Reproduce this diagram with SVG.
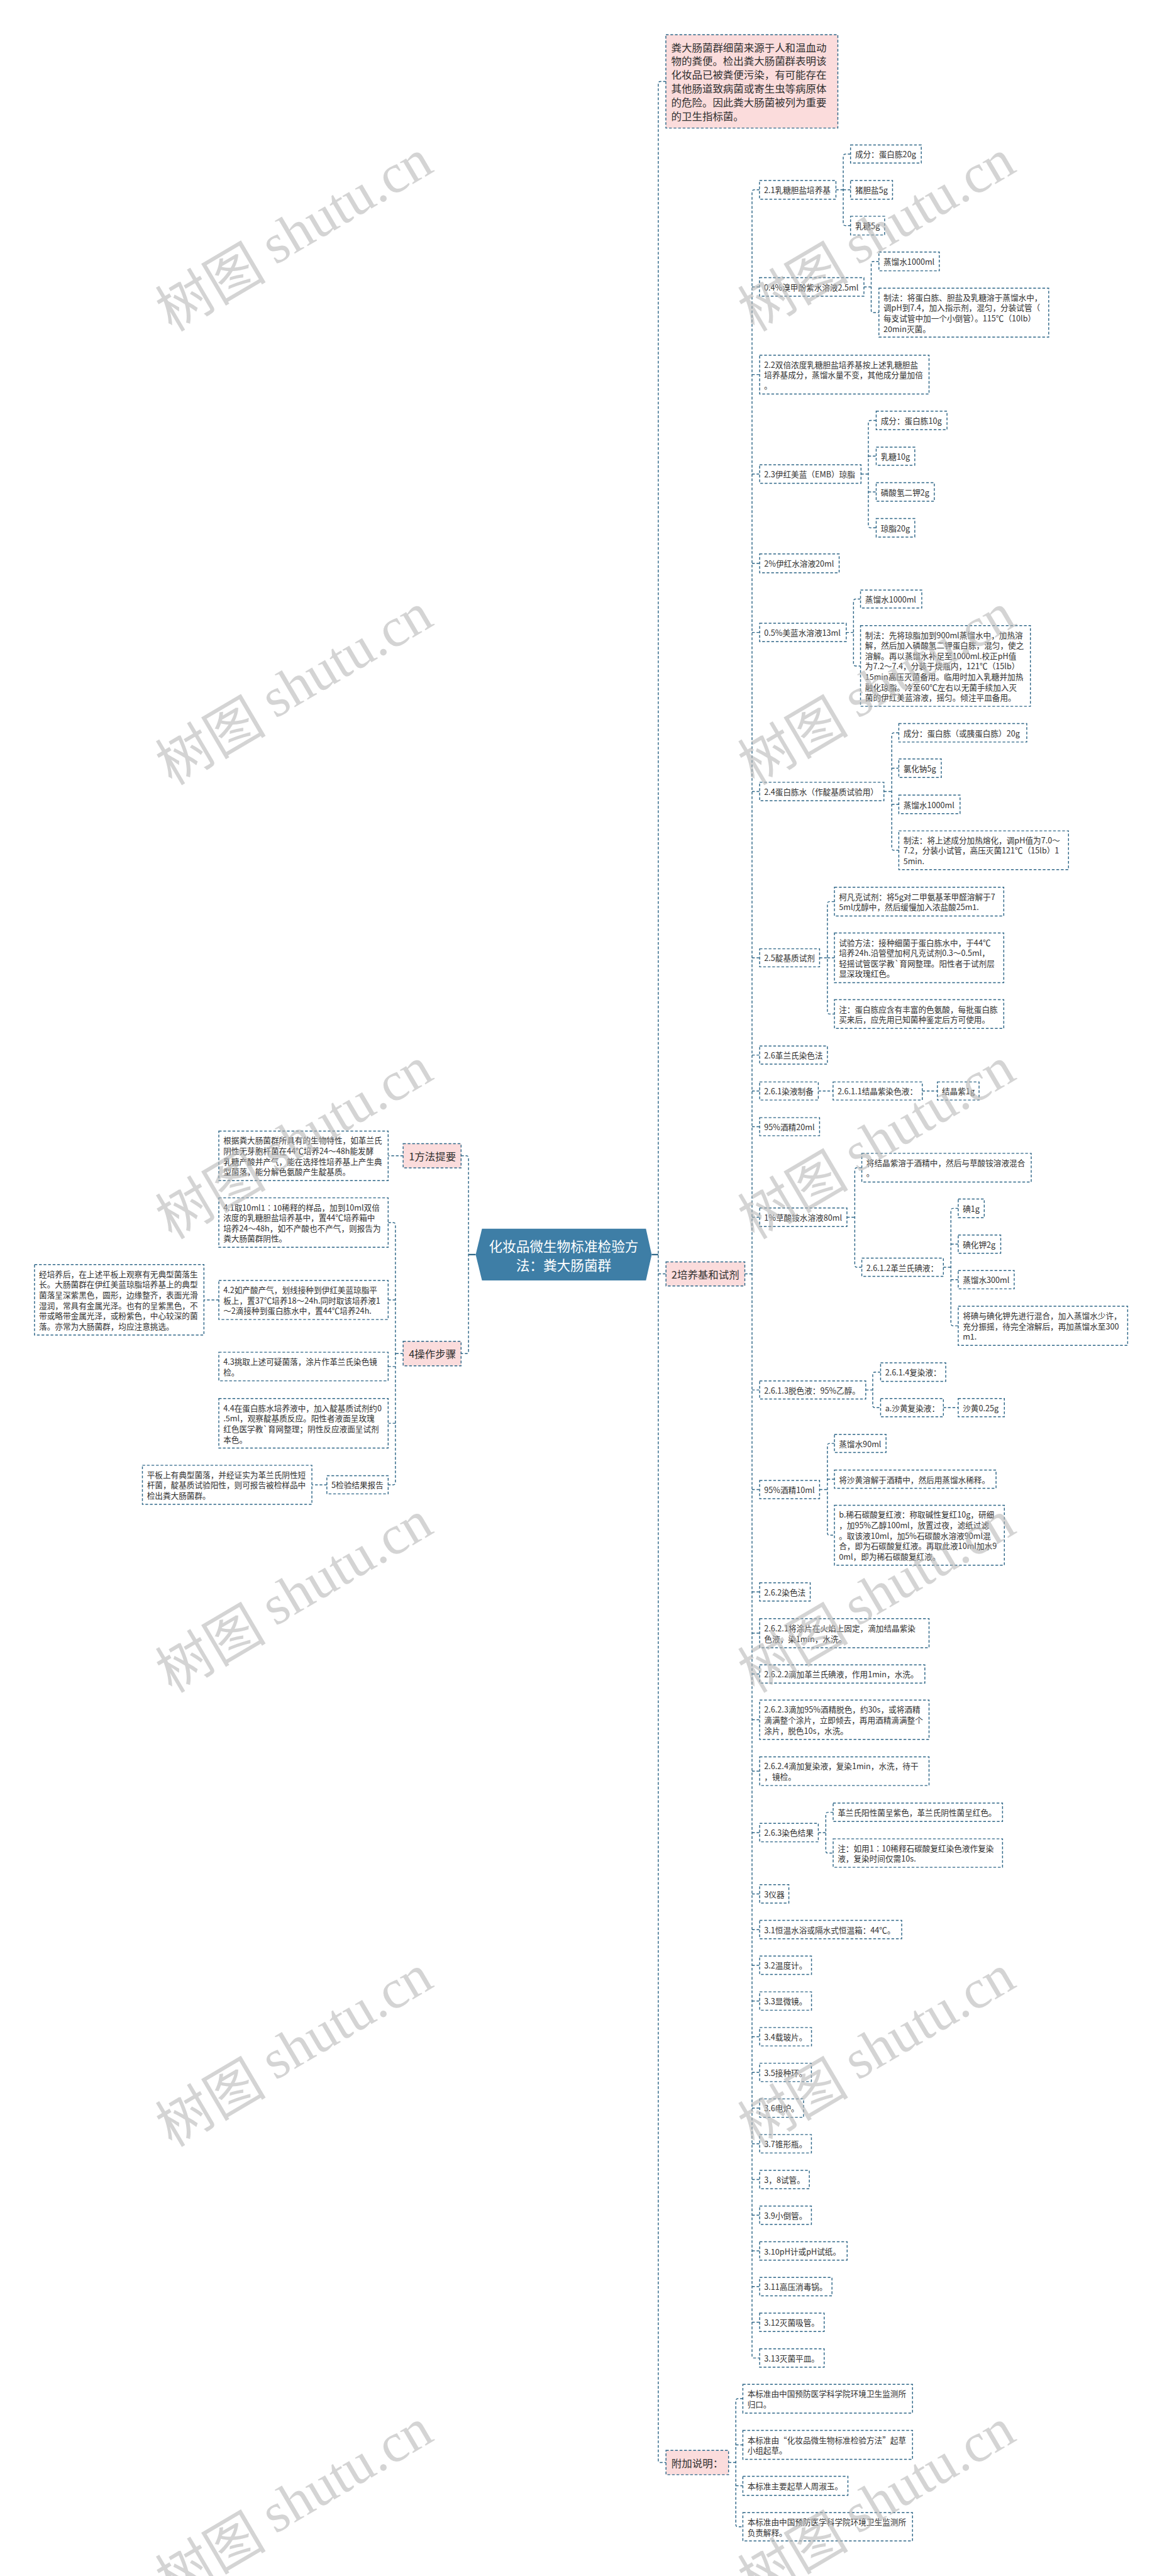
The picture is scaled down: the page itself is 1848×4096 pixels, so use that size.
<svg xmlns="http://www.w3.org/2000/svg" width="1848" height="4096" viewBox="0 0 1848 4096">
<defs>
<style>
.b{fill:#ffffff;stroke:#2f6788;stroke-width:2;stroke-dasharray:6 4}
.p{fill:#fbdcdc;stroke:#2f6788;stroke-width:2;stroke-dasharray:6 4}
.c{fill:none;stroke:#2f6788;stroke-width:2;stroke-dasharray:6 4}
.s{fill:none;stroke:#2f6788;stroke-width:3}
text{font-family:'Noto Sans CJK SC','Microsoft YaHei',sans-serif;dominant-baseline:central;fill:#303030}
.t{font-size:17.5px}
.tp{font-size:22.8px}
.tr{font-size:30px;fill:#ffffff;text-anchor:middle}
.wm{font-size:122px;fill:#b8b8b8;fill-opacity:0.6;text-anchor:middle}
</style>
</defs>
<rect x="0" y="0" width="1848" height="4096" fill="#ffffff"/>
<g transform="scale(0.722)">
<g id="connectors">
<path class="s" d="M1435.5 2763H1450M1047.8 2763H1032"/>
<path class="c" d="M1466.7 179.25H1455Q1450 179.25 1450 184.25V5418.2Q1450 5423.2 1455 5423.2H1467M1450 2805.5H1467"/>
<path class="c" d="M1015.6 2545.3H1027Q1032 2545.3 1032 2550.3V2976Q1032 2981 1027 2981H1015.6"/>
<path class="c" d="M888 2545.3H855"/>
<path class="c" d="M888 2981H871M855 2692.5H866Q871 2692.5 871 2697.5V3265Q871 3270 866 3270H855M871 2863H855M871 3009.5H855M871 3134.5H855"/>
<path class="c" d="M482 2863H449.2M720 3270H687"/>
<path class="c" d="M1640.6 2805.5H1656.5M1672.9 418H1661.5Q1656.5 418 1656.5 423V5188.05Q1656.5 5193.05 1661.5 5193.05H1673.3M1656.5 632H1672.9M1656.5 825H1673.3M1656.5 1043.9H1673.3M1656.5 1240.65H1673.3M1656.5 1392.85H1673.3M1656.5 1743.2H1673.3M1656.5 2109.4H1673.3M1656.5 2323.6H1673.3M1656.5 2402.7H1673.3M1656.5 2481.3H1673.3M1656.5 2680.8H1673.3M1656.5 3061.1H1673.3M1656.5 3280.4H1673.3M1656.5 3505.85H1673.3M1656.5 3596.7H1673.3M1656.5 3686.6H1673.3M1656.5 3787.4H1673.3M1656.5 3900.65H1673.3M1656.5 4035.9H1673.3M1656.5 4170.95H1673.3M1656.5 4249.55H1673.3M1656.5 4328.15H1673.3M1656.5 4406.85H1673.3M1656.5 4485.45H1673.3M1656.5 4564.05H1673.3M1656.5 4642.65H1673.3M1656.5 4721.25H1673.3M1656.5 4799.95H1673.3M1656.5 4878.55H1673.3M1656.5 4957.15H1673.3M1656.5 5035.75H1673.3M1656.5 5114.35H1673.3"/>
<path class="c" d="M1841.3 418H1857.4M1873.5 339.25H1862.4Q1857.4 339.25 1857.4 344.25V491.9Q1857.4 496.9 1862.4 496.9H1873.5M1857.4 418H1873.5"/>
<path class="c" d="M1903 632H1919M1936 575.7H1924Q1919 575.7 1919 580.7V683.5Q1919 688.5 1924 688.5H1936"/>
<path class="c" d="M1896.6 1043.9H1912.7M1930 926H1917.7Q1912.7 926 1912.7 931V1157.35Q1912.7 1162.35 1917.7 1162.35H1930M1912.7 1004.6H1930M1912.7 1083.5H1930"/>
<path class="c" d="M1864 1392.85H1880M1895.5 1319.3H1885Q1880 1319.3 1880 1324.3V1461.65Q1880 1466.65 1885 1466.65H1895.5"/>
<path class="c" d="M1947 1743.2H1964.3M1979.8 1613.8H1969.3Q1964.3 1613.8 1964.3 1618.8V1867.55Q1964.3 1872.55 1969.3 1872.55H1979.8M1964.3 1691.9H1979.8M1964.3 1771.5H1979.8"/>
<path class="c" d="M1805.3 2109.4H1822.5M1838 1985.65H1827.5Q1822.5 1985.65 1822.5 1990.65V2228.2Q1822.5 2233.2 1827.5 2233.2H1838M1822.5 2109.3H1838"/>
<path class="c" d="M1802.5 2402.7H1835M2031.5 2402.7H2064.8"/>
<path class="c" d="M1865.6 2680.8H1882.8M1898.3 2571.6H1887.8Q1882.8 2571.6 1882.8 2576.6V2785.9Q1882.8 2790.9 1887.8 2790.9H1898.3"/>
<path class="c" d="M2078 2790.9H2094.6M2110.7 2661.15H2099.6Q2094.6 2661.15 2094.6 2666.15V2914.85Q2094.6 2919.85 2099.6 2919.85H2110.7M2094.6 2740H2110.7M2094.6 2818.25H2110.7"/>
<path class="c" d="M1907 3061.1H1922.4M1939.7 3021.85H1927.4Q1922.4 3021.85 1922.4 3026.85V3095.1Q1922.4 3100.1 1927.4 3100.1H1939.7M2078 3100.1H2110.7"/>
<path class="c" d="M1805.3 3280.4H1822.5M1838 3178.85H1827.5Q1822.5 3178.85 1822.5 3183.85V3376Q1822.5 3381 1827.5 3381H1838M1822.5 3257.65H1838"/>
<path class="c" d="M1802.5 4035.9H1819M1835.2 3991.2H1824Q1819 3991.2 1819 3996.2V4076.05Q1819 4081.05 1824 4081.05H1835.2"/>
<path class="c" d="M1604.8 5423.2H1620.8M1636.3 5282.65H1625.8Q1620.8 5282.65 1620.8 5287.65V5559.8Q1620.8 5564.8 1625.8 5564.8H1636.3M1620.8 5384.3H1636.3M1620.8 5474.5H1636.3"/>
</g>

<g id="root"><polygon points="1061.7,2706 1422.8,2706 1435.5,2763 1422.8,2820 1061.7,2820 1047.8,2763" fill="#3e7ea6"/><text class="tr" x="1241.6" y="2743">化妆品微生物标准检验方</text><text class="tr" x="1241.6" y="2784">法：粪大肠菌群</text></g>

<g id="n-intro"><rect class="p" x="1466.7" y="76.5" width="378.8" height="205.5"/>
<text class="tp" x="1478.7" y="103.25">粪大肠菌群细菌来源于人和温血动</text><text class="tp" x="1478.7" y="133.65">物的粪便。检出粪大肠菌群表明该</text><text class="tp" x="1478.7" y="164.05">化妆品已被粪便污染，有可能存在</text><text class="tp" x="1478.7" y="194.45">其他肠道致病菌或寄生虫等病原体</text><text class="tp" x="1478.7" y="224.85">的危险。因此粪大肠菌被列为重要</text><text class="tp" x="1478.7" y="255.25">的卫生指标菌。</text></g>
<g id="n-2"><rect class="p" x="1467" y="2779" width="173.6" height="53"/><text class="tp" x="1479" y="2805.5">2培养基和试剂</text></g>
<g id="n-1"><rect class="p" x="888" y="2518.6" width="127.6" height="53.4"/><text class="tp" x="900.5" y="2545.3">1方法提要</text></g>
<g id="n-4"><rect class="p" x="888" y="2954" width="127.6" height="54"/><text class="tp" x="900.5" y="2981">4操作步骤</text></g>
<g id="n-fj"><rect class="p" x="1467" y="5396.4" width="137.8" height="53.6"/><text class="tp" x="1479" y="5423.2">附加说明：</text></g>

<g id="n-1a"><rect class="b" x="482" y="2491" width="373" height="109"/><text class="t" x="492" y="2511">根据粪大肠菌群所具有的生物特性，如革兰氏</text><text class="t" x="492" y="2534">阴性无芽胞杆菌在44℃培养24～48h能发酵</text><text class="t" x="492" y="2557">乳糖产酸并产气，能在选择性培养基上产生典</text><text class="t" x="492" y="2580">型菌落，能分解色氨酸产生靛基质。</text></g>
<g id="n-41"><rect class="b" x="482" y="2638" width="373" height="109"/><text class="t" x="492" y="2658">4.1取10ml1∶10稀释的样品，加到10ml双倍</text><text class="t" x="492" y="2681">浓度的乳糖胆盐培养基中，置44℃培养箱中</text><text class="t" x="492" y="2704">培养24～48h，如不产酸也不产气，则报告为</text><text class="t" x="492" y="2727">粪大肠菌群阴性。</text></g>
<g id="n-42"><rect class="b" x="482" y="2820" width="373" height="86"/><text class="t" x="492" y="2840">4.2如产酸产气，划线接种到伊红美蓝琼脂平</text><text class="t" x="492" y="2863">板上，置37℃培养18～24h.同时取该培养液1</text><text class="t" x="492" y="2886">～2滴接种到蛋白胨水中，置44℃培养24h.</text></g>
<g id="n-42a"><rect class="b" x="76" y="2785" width="373.2" height="155"/><text class="t" x="86" y="2805">经培养后，在上述平板上观察有无典型菌落生</text><text class="t" x="86" y="2828">长。大肠菌群在伊红美蓝琼脂培养基上的典型</text><text class="t" x="86" y="2851">菌落呈深紫黑色，圆形，边缘整齐，表面光滑</text><text class="t" x="86" y="2874">湿润，常具有金属光泽。也有的呈紫黑色，不</text><text class="t" x="86" y="2897">带或略带金属光泽，或粉紫色，中心较深的菌</text><text class="t" x="86" y="2920">落。亦常为大肠菌群，均应注意挑选。</text></g>
<g id="n-43"><rect class="b" x="482" y="2978" width="373" height="63"/><text class="t" x="492" y="2998">4.3挑取上述可疑菌落，涂片作革兰氏染色镜</text><text class="t" x="492" y="3021">检。</text></g>
<g id="n-44"><rect class="b" x="482" y="3080" width="373" height="109"/><text class="t" x="492" y="3100">4.4在蛋白胨水培养液中，加入靛基质试剂约0</text><text class="t" x="492" y="3123">.5ml，观察靛基质反应。阳性者液面呈玫瑰</text><text class="t" x="492" y="3146">红色医学教`育网整理；阴性反应液面呈试剂</text><text class="t" x="492" y="3169">本色。</text></g>
<g id="n-5"><rect class="b" x="720" y="3250" width="135" height="40"/><text class="t" x="730" y="3270">5检验结果报告</text></g>
<g id="n-5a"><rect class="b" x="313.7" y="3227" width="373.3" height="86"/><text class="t" x="323.7" y="3247">平板上有典型菌落，并经证实为革兰氏阴性短</text><text class="t" x="323.7" y="3270">杆菌，靛基质试验阳性，则可报告被检样品中</text><text class="t" x="323.7" y="3293">检出粪大肠菌群。</text></g>

<g id="n-21"><rect class="b" x="1672.9" y="397.4" width="168.4" height="41.2"/><text class="t" x="1682.9" y="418">2.1乳糖胆盐培养基</text></g>
<g id="n-211"><rect class="b" x="1873.5" y="319.3" width="155.8" height="39.9"/><text class="t" x="1883.5" y="339.25">成分：蛋白胨20g</text></g>
<g id="n-212"><rect class="b" x="1873.5" y="397.4" width="92.5" height="41.2"/><text class="t" x="1883.5" y="418">猪胆盐5g</text></g>
<g id="n-213"><rect class="b" x="1873.5" y="476.3" width="75.1" height="41.2"/><text class="t" x="1883.5" y="496.9">乳糖5g</text></g>
<g id="n-bcp"><rect class="b" x="1672.9" y="611.6" width="230.1" height="40.8"/><text class="t" x="1682.9" y="632">0.4%溴甲酚紫水溶液2.5ml</text></g>
<g id="n-bcp-a"><rect class="b" x="1936" y="555" width="133" height="41.4"/><text class="t" x="1946" y="575.7">蒸馏水1000ml</text></g>
<g id="n-bcp-b"><rect class="b" x="1936" y="634.6" width="374" height="107.8"/><text class="t" x="1946" y="654">制法：将蛋白胨、胆盐及乳糖溶于蒸馏水中，</text><text class="t" x="1946" y="677">调pH到7.4，加入指示剂，混匀，分装试管（</text><text class="t" x="1946" y="700">每支试管中加一个小倒管）。115℃（10lb）</text><text class="t" x="1946" y="723">20min灭菌。</text></g>
<g id="n-22"><rect class="b" x="1673.3" y="782.2" width="373.1" height="85.6"/><text class="t" x="1683.3" y="802">2.2双倍浓度乳糖胆盐培养基按上述乳糖胆盐</text><text class="t" x="1683.3" y="825">培养基成分，蒸馏水量不变，其他成分量加倍</text><text class="t" x="1683.3" y="848">。</text></g>
<g id="n-23"><rect class="b" x="1673.3" y="1023.5" width="223.3" height="40.8"/><text class="t" x="1683.3" y="1043.9">2.3伊红美蓝（EMB）琼脂</text></g>
<g id="n-231"><rect class="b" x="1930" y="905.6" width="156" height="40.8"/><text class="t" x="1940" y="926">成分：蛋白胨10g</text></g>
<g id="n-232"><rect class="b" x="1930" y="984.7" width="85" height="39.8"/><text class="t" x="1940" y="1004.6">乳糖10g</text></g>
<g id="n-233"><rect class="b" x="1930" y="1063" width="128" height="41"/><text class="t" x="1940" y="1083.5">磷酸氢二钾2g</text></g>
<g id="n-234"><rect class="b" x="1930" y="1142" width="85" height="40.7"/><text class="t" x="1940" y="1162.35">琼脂20g</text></g>
<g id="n-ey"><rect class="b" x="1673.3" y="1220" width="175.1" height="41.3"/><text class="t" x="1683.3" y="1240.65">2%伊红水溶液20ml</text></g>
<g id="n-mb"><rect class="b" x="1673.3" y="1372.7" width="190.7" height="40.3"/><text class="t" x="1683.3" y="1392.85">0.5%美蓝水溶液13ml</text></g>
<g id="n-mb-a"><rect class="b" x="1895.5" y="1299.6" width="134.9" height="39.4"/><text class="t" x="1905.5" y="1319.3">蒸馏水1000ml</text></g>
<g id="n-mb-b"><rect class="b" x="1895.5" y="1377.7" width="374.2" height="177.9"/><text class="t" x="1905.5" y="1397.65">制法：先将琼脂加到900ml蒸馏水中，加热溶</text><text class="t" x="1905.5" y="1420.65">解，然后加入磷酸氢二钾蛋白胨，混匀，使之</text><text class="t" x="1905.5" y="1443.65">溶解。再以蒸馏水补足至1000ml.校正pH值</text><text class="t" x="1905.5" y="1466.65">为7.2～7.4，分装于烧瓶内，121℃（15lb）</text><text class="t" x="1905.5" y="1489.65">15min高压灭菌备用。临用时加入乳糖并加热</text><text class="t" x="1905.5" y="1512.65">融化琼脂。冷至60℃左右以无菌手续加入灭</text><text class="t" x="1905.5" y="1535.65">菌的伊红美蓝溶液，摇匀。倾注平皿备用。</text></g>
<g id="n-24"><rect class="b" x="1673.3" y="1722.8" width="273.7" height="40.8"/><text class="t" x="1683.3" y="1743.2">2.4蛋白胨水（作靛基质试验用）</text></g>
<g id="n-241"><rect class="b" x="1979.8" y="1593.4" width="281.9" height="40.8"/><text class="t" x="1989.8" y="1613.8">成分：蛋白胨（或胰蛋白胨）20g</text></g>
<g id="n-242"><rect class="b" x="1979.8" y="1671.5" width="93.6" height="40.8"/><text class="t" x="1989.8" y="1691.9">氯化钠5g</text></g>
<g id="n-243"><rect class="b" x="1979.8" y="1751" width="134.9" height="41"/><text class="t" x="1989.8" y="1771.5">蒸馏水1000ml</text></g>
<g id="n-244"><rect class="b" x="1979.8" y="1829.8" width="373.8" height="85.5"/><text class="t" x="1989.8" y="1849.55">制法：将上述成分加热熔化，调pH值为7.0～</text><text class="t" x="1989.8" y="1872.55">7.2，分装小试管，高压灭菌121℃（15lb）1</text><text class="t" x="1989.8" y="1895.55">5min.</text></g>
<g id="n-25"><rect class="b" x="1673.3" y="2089.5" width="132" height="39.8"/><text class="t" x="1683.3" y="2109.4">2.5靛基质试剂</text></g>
<g id="n-251"><rect class="b" x="1838" y="1954" width="373" height="63.3"/><text class="t" x="1848" y="1974.15">柯凡克试剂：将5g对二甲氨基苯甲醛溶解于7</text><text class="t" x="1848" y="1997.15">5ml戊醇中，然后缓慢加入浓盐酸25m1.</text></g>
<g id="n-252"><rect class="b" x="1838" y="2054.6" width="373" height="109.4"/><text class="t" x="1848" y="2074.8">试验方法：接种细菌于蛋白胨水中，于44℃</text><text class="t" x="1848" y="2097.8">培养24h.沿管壁加柯凡克试剂0.3～0.5ml，</text><text class="t" x="1848" y="2120.8">轻摇试管医学教`育网整理。阳性者于试剂层</text><text class="t" x="1848" y="2143.8">显深玫瑰红色。</text></g>
<g id="n-253"><rect class="b" x="1838" y="2201.4" width="373" height="63.6"/><text class="t" x="1848" y="2221.7">注：蛋白胨应含有丰富的色氨酸，每批蛋白胨</text><text class="t" x="1848" y="2244.7">买来后，应先用已知菌种鉴定后方可使用。</text></g>
<g id="n-26"><rect class="b" x="1673.3" y="2303.7" width="149.2" height="39.8"/><text class="t" x="1683.3" y="2323.6">2.6革兰氏染色法</text></g>
<g id="n-261"><rect class="b" x="1673.3" y="2382.8" width="129.2" height="39.8"/><text class="t" x="1683.3" y="2402.7">2.6.1染液制备</text></g>
<g id="n-2611"><rect class="b" x="1835" y="2382.8" width="196.5" height="39.8"/><text class="t" x="1845" y="2402.7">2.6.1.1结晶紫染色液：</text></g>
<g id="n-2611a"><rect class="b" x="2064.8" y="2382.8" width="91.8" height="39.8"/><text class="t" x="2074.8" y="2402.7">结晶紫1g</text></g>
<g id="n-95a"><rect class="b" x="1673.3" y="2461.4" width="132" height="39.8"/><text class="t" x="1683.3" y="2481.3">95%酒精20ml</text></g>
<g id="n-cs"><rect class="b" x="1673.3" y="2660.4" width="192.3" height="40.8"/><text class="t" x="1683.3" y="2680.8">1%草酸铵水溶液80ml</text></g>
<g id="n-cs-a"><rect class="b" x="1898.3" y="2540" width="373.2" height="63.2"/><text class="t" x="1908.3" y="2560.1">将结晶紫溶于酒精中，然后与草酸铵溶液混合</text><text class="t" x="1908.3" y="2583.1">。</text></g>
<g id="n-2612"><rect class="b" x="1898.3" y="2770.8" width="179.7" height="40.2"/><text class="t" x="1908.3" y="2790.9">2.6.1.2革兰氏碘液：</text></g>
<g id="n-2612a"><rect class="b" x="2110.7" y="2640.5" width="57.3" height="41.3"/><text class="t" x="2120.7" y="2661.15">碘1g</text></g>
<g id="n-2612b"><rect class="b" x="2110.7" y="2720" width="93.6" height="40"/><text class="t" x="2120.7" y="2740">碘化钾2g</text></g>
<g id="n-2612c"><rect class="b" x="2110.7" y="2798" width="123.3" height="40.5"/><text class="t" x="2120.7" y="2818.25">蒸馏水300ml</text></g>
<g id="n-2612d"><rect class="b" x="2110.7" y="2876.8" width="373.2" height="86.1"/><text class="t" x="2120.7" y="2896.85">将碘与碘化钾先进行混合，加入蒸馏水少许，</text><text class="t" x="2120.7" y="2919.85">充分振摇，待完全溶解后，再加蒸馏水至300</text><text class="t" x="2120.7" y="2942.85">m1.</text></g>
<g id="n-2613"><rect class="b" x="1673.3" y="3041.2" width="233.7" height="39.8"/><text class="t" x="1683.3" y="3061.1">2.6.1.3脱色液：95%乙醇。</text></g>
<g id="n-2614"><rect class="b" x="1939.7" y="3001.5" width="143.5" height="40.7"/><text class="t" x="1949.7" y="3021.85">2.6.1.4复染液：</text></g>
<g id="n-a"><rect class="b" x="1939.7" y="3080" width="138.3" height="40.2"/><text class="t" x="1949.7" y="3100.1">a.沙黄复染液：</text></g>
<g id="n-a1"><rect class="b" x="2110.7" y="3080" width="101.6" height="40.2"/><text class="t" x="2120.7" y="3100.1">沙黄0.25g</text></g>
<g id="n-95b"><rect class="b" x="1673.3" y="3260.3" width="132" height="40.2"/><text class="t" x="1683.3" y="3280.4">95%酒精10ml</text></g>
<g id="n-95b1"><rect class="b" x="1838" y="3159" width="113.7" height="39.7"/><text class="t" x="1848" y="3178.85">蒸馏水90ml</text></g>
<g id="n-95b2"><rect class="b" x="1838" y="3237.5" width="356" height="40.3"/><text class="t" x="1848" y="3257.65">将沙黄溶解于酒精中，然后用蒸馏水稀释。</text></g>
<g id="n-95b3"><rect class="b" x="1838" y="3315" width="374.3" height="132"/><text class="t" x="1848" y="3335">b.稀石碳酸复红液：称取碱性复红10g，研细</text><text class="t" x="1848" y="3358">，加95%乙醇100ml，放置过夜，滤纸过滤</text><text class="t" x="1848" y="3381">。取该液10ml，加5%石碳酸水溶液90ml混</text><text class="t" x="1848" y="3404">合，即为石碳酸复红液。再取此液10ml加水9</text><text class="t" x="1848" y="3427">0ml，即为稀石碳酸复红液。</text></g>
<g id="n-262"><rect class="b" x="1673.3" y="3485.7" width="111.4" height="40.3"/><text class="t" x="1683.3" y="3505.85">2.6.2染色法</text></g>
<g id="n-2621"><rect class="b" x="1673.3" y="3564.7" width="373.1" height="64"/><text class="t" x="1683.3" y="3585.2">2.6.2.1将涂片在火焰上固定，滴加结晶紫染</text><text class="t" x="1683.3" y="3608.2">色液，染1min，水洗。</text></g>
<g id="n-2622"><rect class="b" x="1673.3" y="3666.5" width="363.9" height="40.2"/><text class="t" x="1683.3" y="3686.6">2.6.2.2滴加革兰氏碘液，作用1min，水洗。</text></g>
<g id="n-2623"><rect class="b" x="1673.3" y="3744" width="373.1" height="86.8"/><text class="t" x="1683.3" y="3764.4">2.6.2.3滴加95%酒精脱色，约30s，或将酒精</text><text class="t" x="1683.3" y="3787.4">滴满整个涂片，立即倾去，再用酒精滴满整个</text><text class="t" x="1683.3" y="3810.4">涂片，脱色10s，水洗。</text></g>
<g id="n-2624"><rect class="b" x="1673.3" y="3869" width="373.1" height="63.3"/><text class="t" x="1683.3" y="3889.15">2.6.2.4滴加复染液，复染1min，水洗，待干</text><text class="t" x="1683.3" y="3912.15">，镜检。</text></g>
<g id="n-263"><rect class="b" x="1673.3" y="4015.5" width="129.2" height="40.8"/><text class="t" x="1683.3" y="4035.9">2.6.3染色结果</text></g>
<g id="n-2631"><rect class="b" x="1835.2" y="3971" width="373.1" height="40.4"/><text class="t" x="1845.2" y="3991.2">革兰氏阳性菌呈紫色，革兰氏阴性菌呈红色。</text></g>
<g id="n-2632"><rect class="b" x="1835.2" y="4049.7" width="373.1" height="62.7"/><text class="t" x="1845.2" y="4069.55">注：如用1∶10稀释石碳酸复红染色液作复染</text><text class="t" x="1845.2" y="4092.55">液，复染时间仅需10s.</text></g>
<g id="n-3"><rect class="b" x="1673.3" y="4150.7" width="64.3" height="40.5"/><text class="t" x="1683.3" y="4170.95">3仪器</text></g>
<g id="n-31"><rect class="b" x="1673.3" y="4229.3" width="312.9" height="40.5"/><text class="t" x="1683.3" y="4249.55">3.1恒温水浴或隔水式恒温箱：44℃。</text></g>
<g id="n-32"><rect class="b" x="1673.3" y="4307.9" width="114.2" height="40.5"/><text class="t" x="1683.3" y="4328.15">3.2温度计。</text></g>
<g id="n-33"><rect class="b" x="1673.3" y="4386.6" width="114.2" height="40.5"/><text class="t" x="1683.3" y="4406.85">3.3显微镜。</text></g>
<g id="n-34"><rect class="b" x="1673.3" y="4465.2" width="114.2" height="40.5"/><text class="t" x="1683.3" y="4485.45">3.4载玻片。</text></g>
<g id="n-35"><rect class="b" x="1673.3" y="4543.8" width="114" height="40.5"/><text class="t" x="1683.3" y="4564.05">3.5接种环。</text></g>
<g id="n-36"><rect class="b" x="1673.3" y="4622.4" width="96.7" height="40.5"/><text class="t" x="1683.3" y="4642.65">3.6电炉。</text></g>
<g id="n-37"><rect class="b" x="1673.3" y="4701" width="114" height="40.5"/><text class="t" x="1683.3" y="4721.25">3.7锥形瓶。</text></g>
<g id="n-38"><rect class="b" x="1673.3" y="4779.7" width="109.4" height="40.5"/><text class="t" x="1683.3" y="4799.95">3，8试管。</text></g>
<g id="n-39"><rect class="b" x="1673.3" y="4858.3" width="114" height="40.5"/><text class="t" x="1683.3" y="4878.55">3.9小倒管。</text></g>
<g id="n-310"><rect class="b" x="1673.3" y="4936.9" width="192.7" height="40.5"/><text class="t" x="1683.3" y="4957.15">3.10pH计或pH试纸。</text></g>
<g id="n-311"><rect class="b" x="1673.3" y="5015.5" width="159.3" height="40.5"/><text class="t" x="1683.3" y="5035.75">3.11高压消毒锅。</text></g>
<g id="n-312"><rect class="b" x="1673.3" y="5094.1" width="142.1" height="40.5"/><text class="t" x="1683.3" y="5114.35">3.12灭菌吸管。</text></g>
<g id="n-313"><rect class="b" x="1673.3" y="5172.8" width="142.1" height="40.5"/><text class="t" x="1683.3" y="5193.05">3.13灭菌平皿。</text></g>
<g id="n-fj1"><rect class="b" x="1636.3" y="5251" width="373.7" height="63.3"/><text class="t" x="1646.3" y="5271.15">本标准由中国预防医学科学院环境卫生监测所</text><text class="t" x="1646.3" y="5294.15">归口。</text></g>
<g id="n-fj2"><rect class="b" x="1636.3" y="5352.4" width="373.7" height="63.8"/><text class="t" x="1646.3" y="5372.8">本标准由“化妆品微生物标准检验方法”起草</text><text class="t" x="1646.3" y="5395.8">小组起草。</text></g>
<g id="n-fj3"><rect class="b" x="1636.3" y="5453.6" width="231.4" height="41.8"/><text class="t" x="1646.3" y="5474.5">本标准主要起草人周淑玉。</text></g>
<g id="n-fj4"><rect class="b" x="1636.3" y="5533.6" width="373.7" height="62.4"/><text class="t" x="1646.3" y="5553.3">本标准由中国预防医学科学院环境卫生监测所</text><text class="t" x="1646.3" y="5576.3">负责解释。</text></g>

<g id="watermarks">
<text class="wm" x="645" y="513" transform="rotate(-30.5 645 513)">树图 <tspan font-family="'Liberation Serif',serif">shutu.cn</tspan></text>
<text class="wm" x="1928" y="513" transform="rotate(-30.5 1928 513)">树图 <tspan font-family="'Liberation Serif',serif">shutu.cn</tspan></text>
<text class="wm" x="645" y="1512" transform="rotate(-30.5 645 1512)">树图 <tspan font-family="'Liberation Serif',serif">shutu.cn</tspan></text>
<text class="wm" x="1928" y="1512" transform="rotate(-30.5 1928 1512)">树图 <tspan font-family="'Liberation Serif',serif">shutu.cn</tspan></text>
<text class="wm" x="645" y="2512" transform="rotate(-30.5 645 2512)">树图 <tspan font-family="'Liberation Serif',serif">shutu.cn</tspan></text>
<text class="wm" x="1928" y="2512" transform="rotate(-30.5 1928 2512)">树图 <tspan font-family="'Liberation Serif',serif">shutu.cn</tspan></text>
<text class="wm" x="645" y="3511" transform="rotate(-30.5 645 3511)">树图 <tspan font-family="'Liberation Serif',serif">shutu.cn</tspan></text>
<text class="wm" x="1928" y="3511" transform="rotate(-30.5 1928 3511)">树图 <tspan font-family="'Liberation Serif',serif">shutu.cn</tspan></text>
<text class="wm" x="645" y="4511" transform="rotate(-30.5 645 4511)">树图 <tspan font-family="'Liberation Serif',serif">shutu.cn</tspan></text>
<text class="wm" x="1928" y="4511" transform="rotate(-30.5 1928 4511)">树图 <tspan font-family="'Liberation Serif',serif">shutu.cn</tspan></text>
<text class="wm" x="645" y="5510" transform="rotate(-30.5 645 5510)">树图 <tspan font-family="'Liberation Serif',serif">shutu.cn</tspan></text>
<text class="wm" x="1928" y="5510" transform="rotate(-30.5 1928 5510)">树图 <tspan font-family="'Liberation Serif',serif">shutu.cn</tspan></text>
</g>
</g>
</svg>
